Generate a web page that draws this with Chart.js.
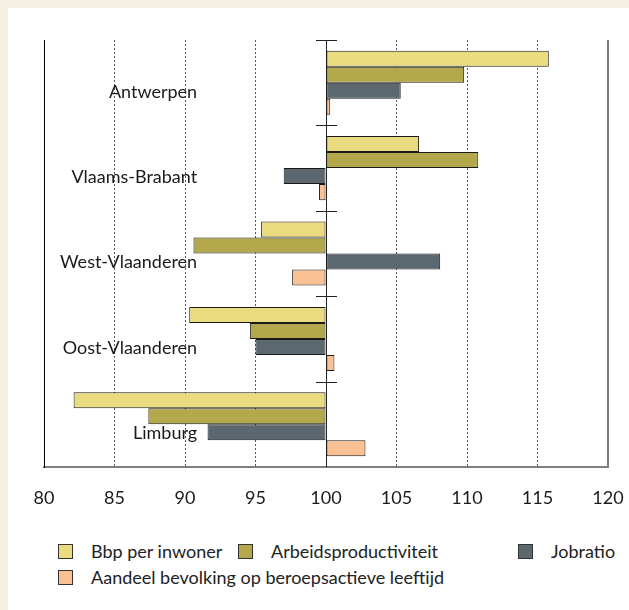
<!DOCTYPE html>
<html>
<head>
<meta charset="utf-8">
<script src="https://cdn.jsdelivr.net/npm/chart.js@4.4.1/dist/chart.umd.min.js"></script>
<style>
    body { margin: 0; width: 629px; height: 610px; position: relative; overflow: hidden; background: #f4f0e4; font-family: Lato, sans-serif; }
    #paneel { position: absolute; left: 8px; top: 8px; right: 0; bottom: 0; background: #fff; }
    #grafiek { position: absolute; left: 0; top: 0; }
    #legende { position: absolute; left: 58px; top: 542px; display: grid; grid-template-columns: 180px 280px auto; row-gap: 7px; font-size: 18px; color: #222; }
    .item { display: flex; align-items: center; height: 19px; line-height: 19px; white-space: nowrap; }
    .vak { width: 13px; height: 13px; border: 1px solid #333; margin-right: 18px; }
    .breed { grid-column: 1 / span 3; }
</style>
</head>
<body>
<div id="paneel"></div>
<canvas id="grafiek" width="629" height="530"></canvas>
<div id="legende"></div>
<script>
var regios = ['Antwerpen', 'Vlaams-Brabant', 'West-Vlaanderen', 'Oost-Vlaanderen', 'Limburg'];
var bbpPerInwoner = [115.8, 106.6, 95.4, 90.3, 82.1];
var arbeidsproductiviteit = [109.8, 110.8, 90.6, 94.6, 87.4];
var jobratio = [105.3, 97.0, 108.1, 95.0, 91.6];
var aandeelBeroepsactief = [100.3, 99.5, 97.6, 100.6, 102.8];
var basis = 100;
var xMin = 80, xMax = 120, xStap = 5;

var reeksen = [
    { label: 'Bbp per inwoner', data: bbpPerInwoner, kleur: '#ebdb80' },
    { label: 'Arbeidsproductiviteit', data: arbeidsproductiviteit, kleur: '#b4a84c' },
    { label: 'Jobratio', data: jobratio, kleur: '#5c6870' },
    { label: 'Aandeel bevolking op beroepsactieve leeftijd', data: aandeelBeroepsactief, kleur: '#f9c194' }
];

// as bij 100 met kruisstreepjes, plus de grijze rand rechts
const kader = {
    id: 'kader',
    beforeDatasetsDraw(chart) {
        const ctx = chart.ctx;
        const a = chart.chartArea;
        const xb = Math.round(chart.scales.x.getPixelForValue(basis)) + 0.5;
        ctx.save();
        ctx.strokeStyle = '#222';
        ctx.lineWidth = 1;
        ctx.beginPath();
        ctx.moveTo(xb, a.top);
        ctx.lineTo(xb, a.bottom);
        ctx.stroke();
        ctx.restore();
    },
    afterDraw(chart) {
        const ctx = chart.ctx;
        const a = chart.chartArea;
        const y = chart.scales.y;
        ctx.save();
        ctx.strokeStyle = '#7f7f7f';
        ctx.lineWidth = 2;
        ctx.beginPath();
        ctx.moveTo(Math.round(a.right), a.top);
        ctx.lineTo(Math.round(a.right), a.bottom + 1);
        ctx.stroke();
        ctx.strokeStyle = '#222';
        ctx.lineWidth = 1;
        const xb = Math.round(chart.scales.x.getPixelForValue(basis));
        for (let i = 0; i < regios.length; i++) {
            const yy = Math.round(y.getPixelForValue(i - 0.5)) + 0.5;
            ctx.beginPath();
            ctx.moveTo(xb - 10, yy);
            ctx.lineTo(xb + 11, yy);
            ctx.stroke();
        }
        ctx.restore();
    }
};

const grafiek = new Chart(document.getElementById('grafiek'), {
    type: 'bar',
    data: {
        labels: regios,
        datasets: reeksen.map(r => ({
            label: r.label,
            data: r.data,
            base: basis,
            backgroundColor: r.kleur,
            borderColor: '#1a1a1a',
            borderWidth: 1,
            borderSkipped: false,
            categoryPercentage: 0.75,
            barPercentage: 1
        }))
    },
    options: {
        indexAxis: 'y',
        responsive: false,
        animation: false,
        devicePixelRatio: 1,
        layout: { padding: { top: 40, left: 44, right: 21, bottom: 23 } },
        plugins: {
            legend: { display: false },
            tooltip: { enabled: false }
        },
        scales: {
            x: {
                min: xMin,
                max: xMax,
                afterFit: s => { s.height = 40; },
                // onzichtbare streepjes i.p.v. padding, anders krimpt het plotvlak rechts
                ticks: { stepSize: xStap, padding: 0, color: '#1a1a1a', font: { family: 'Lato', size: 18 } },
                grid: {
                    drawTicks: true,
                    tickLength: 20,
                    tickColor: 'rgba(0,0,0,0)',
                    lineWidth: 1,
                    color: c => (c.tick && (c.tick.value === xMin || c.tick.value === xMax)) ? 'rgba(0,0,0,0)' : '#555'
                },
                border: { display: true, color: '#7f7f7f', width: 2, dash: [2, 2] }
            },
            y: {
                position: 'left',
                afterFit: s => { s.width = 0; },
                // gespiegeld: de namen staan rechts uitgelijnd binnen het plotvlak
                ticks: { mirror: true, crossAlign: 'far', padding: 16, labelOffset: 9, color: '#1a1a1a', font: { family: 'Lato', size: 18 } },
                grid: { drawOnChartArea: false, drawTicks: false },
                border: { display: true, color: '#000', width: 1 }
            }
        }
    },
    plugins: [kader]
});

// legende als gewone tekst onder de grafiek
var legendeHTML = '';
grafiek.data.datasets.forEach((ds, i) => {
    var breed = i === 3 ? ' breed' : '';
    legendeHTML += `<div class="item${breed}"><span class="vak" style="background:${ds.backgroundColor}"></span>${ds.label}</div>`;
});
document.getElementById('legende').innerHTML = legendeHTML;
</script>
</body>
</html>
